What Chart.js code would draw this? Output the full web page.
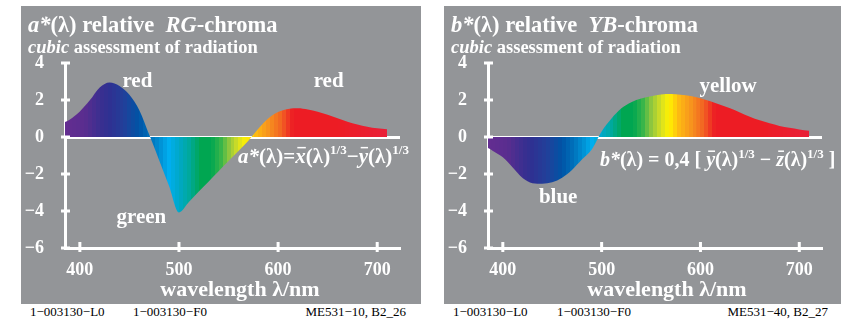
<!DOCTYPE html>
<html>
<head>
<meta charset="utf-8">
<script src="https://cdn.jsdelivr.net/npm/chart.js@4.4.0/dist/chart.umd.min.js"></script>
<style>
  body { margin:0; background:#fff; width:841px; height:320px; position:relative; overflow:hidden; font-family:"Liberation Serif","Times New Roman",serif; }
  .panel { position:absolute; top:6px; height:298px; background:#939598; }
  #p1 { left:21px; width:400px; }
  #p2 { left:444px; width:397px; }
  .foot { position:absolute; top:305px; font-size:13px; line-height:14px; color:#000; white-space:nowrap; }
</style>
</head>
<body>
<div class="panel" id="p1"><canvas id="chartA"></canvas></div>
<div class="panel" id="p2"><canvas id="chartB"></canvas></div>
<div class="foot" style="left:30px">1−003130−L0</div>
<div class="foot" style="left:133px">1−003130−F0</div>
<div class="foot" style="right:435px">ME531−10, B2_26</div>
<div class="foot" style="left:453px">1−003130−L0</div>
<div class="foot" style="left:557px">1−003130−F0</div>
<div class="foot" style="right:13px">ME531−40, B2_27</div>
<script>
// wavelength in nm
const wavelengths = [385, 390, 400, 410, 420, 430, 440, 450, 460, 470, 480, 490, 500, 510, 520, 530, 540,
  550, 560, 570, 580, 590, 600, 610, 620, 630, 640, 650, 660, 670, 680, 690, 700, 710];
// a*(λ) relative RG-chroma
const aStar = [0.81, 0.95, 1.38, 1.98, 2.68, 2.95, 2.76, 2.28, 1.45, 0.12, -1.25, -2.65, -4.08, -3.52, -2.95, -2.4, -1.85,
  -1.3, -0.75, -0.2, 0.45, 1.0, 1.35, 1.52, 1.55, 1.48, 1.36, 1.2, 1.01, 0.83, 0.68, 0.56, 0.47, 0.42];
// b*(λ) relative YB-chroma
const bStar = [-0.6, -0.75, -1.1, -1.65, -2.22, -2.5, -2.53, -2.45, -2.2, -1.78, -1.22, -0.68, 0.3, 1.0, 1.55, 1.88, 2.08,
  2.2, 2.3, 2.32, 2.28, 2.22, 2.1, 1.93, 1.75, 1.55, 1.33, 1.1, 0.9, 0.74, 0.6, 0.5, 0.41, 0.34];
const xTicks = [400, 500, 600, 700];
const yTicks = [-6, -4, -2, 0, 2, 4];

// colours of the spectrum (fill)
const spectrum = [
  [380, '#662d91'], [405, '#592d8f'], [420, '#3b2f90'], [430, '#2e3192'], [445, '#21409a'], [460, '#0054a6'],
  [472, '#0072bc'], [482, '#0093d6'], [490, '#00aeef'], [500, '#00a8c8'], [510, '#00a99d'], [522, '#00a651'],
  [532, '#00a651'], [542, '#39b54a'], [550, '#8dc63f'], [560, '#d7df23'], [568, '#fff200'], [578, '#fdb913'],
  [590, '#f7941d'], [603, '#f26522'], [615, '#ed1c24'], [660, '#ed1c24'], [720, '#e8203c']
];

function hex(c) { return [1, 3, 5].map(i => parseInt(c.substr(i, 2), 16)); }
function specColor(l) {
  for (let i = 0; i < spectrum.length - 1; i++) {
    const [l0, c0] = spectrum[i], [l1, c1] = spectrum[i + 1];
    if (l <= l1) {
      const t = Math.max(0, (l - l0) / (l1 - l0));
      const a = hex(c0), b = hex(c1);
      return 'rgb(' + a.map((v, k) => Math.round(v + (b[k] - v) * t)).join(',') + ')';
    }
  }
  return spectrum[spectrum.length - 1][1];
}

function spectrumFill(context) {
  const chart = context.chart;
  if (!chart.chartArea) return '#888';
  const x = chart.scales.x;
  const p0 = x.getPixelForValue(380), p1 = x.getPixelForValue(724);
  const g = chart.ctx.createLinearGradient(p0, 0, p1, 0);
  for (let l = 380; l < 724; l += 4) {
    const c = specColor(l + 2);
    g.addColorStop((l - 380) / 344, c);
    g.addColorStop(Math.min(1, (l + 3.99 - 380) / 344), c);
  }
  return g;
}

const FONT = '"Liberation Serif", "Times New Roman", serif';

function drawRich(ctx, x, y, size, parts) {
  parts.forEach(p => {
    const s = p.sup ? Math.round(size * 0.63) : size;
    ctx.font = (p.i ? 'italic ' : '') + 'bold ' + s + 'px ' + FONT;
    const yy = p.sup ? y - size * 0.42 : y;
    ctx.fillText(p.t, x, yy);
    const w = ctx.measureText(p.t).width;
    if (p.bar) ctx.fillRect(x + 2, yy - size * 0.78, w - 2, 1.5);
    x += w;
  });
}

const decor = {
  id: 'decor',
  afterDraw(chart, args, o) {
    const { ctx, scales: { x, y } } = chart;
    ctx.save();
    ctx.strokeStyle = '#fff';
    ctx.fillStyle = '#fff';
    ctx.lineWidth = 3;
    ctx.beginPath();
    y.ticks.forEach(t => { const py = y.getPixelForValue(t.value); ctx.moveTo(x.left - 4, py); ctx.lineTo(x.left + 5, py); });
    x.ticks.forEach(t => { const px = x.getPixelForValue(t.value); ctx.moveTo(px, y.bottom - 6); ctx.lineTo(px, y.bottom + 4); });
    ctx.stroke();

    ctx.textAlign = 'left';
    ctx.textBaseline = 'alphabetic';
    drawRich(ctx, 7, 26, 22.5, o.title);
    drawRich(ctx, 7, 47, 18.5, o.sub);

    ctx.textAlign = 'center';
    ctx.font = 'bold 21px ' + FONT;
    o.notes.forEach(n => ctx.fillText(n.t, x.getPixelForValue(n.x), y.getPixelForValue(n.y)));
    ctx.font = 'bold 22px ' + FONT;
    ctx.fillText('wavelength λ/nm', o.xTitle, 290);

    ctx.textAlign = 'left';
    drawRich(ctx, x.getPixelForValue(o.formulaAt[0]), y.getPixelForValue(o.formulaAt[1]), o.formulaSize, o.formula);
    ctx.restore();
  }
};

function makeChart(id, values, padRight, deco) {
  return new Chart(document.getElementById(id), {
    type: 'line',
    data: {
      datasets: [{
        data: wavelengths.map((w, i) => ({ x: w, y: values[i] })),
        fill: 'origin',
        backgroundColor: spectrumFill,
        borderWidth: 0,
        borderColor: 'rgba(0,0,0,0)',
        pointRadius: 0,
        cubicInterpolationMode: 'monotone'
      }]
    },
    options: {
      responsive: true,
      maintainAspectRatio: false,
      animation: false,
      layout: { padding: { top: 57, right: padRight, left: 0, bottom: 0 } },
      plugins: { legend: { display: false }, tooltip: { enabled: false }, decor: deco },
      scales: {
        x: {
          type: 'linear',
          min: 385,
          max: 723,
          afterFit: s => { s.height = 56; },
          afterBuildTicks: s => { s.ticks = xTicks.map(v => ({ value: v })); },
          border: { color: '#fff', width: 3 },
          grid: { display: false, drawTicks: false },
          ticks: { color: '#fff', padding: 12, font: { family: FONT, size: 18, weight: 'bold' } }
        },
        y: {
          min: -6,
          max: 4,
          z: 1,
          afterFit: s => { s.width = 44; },
          afterBuildTicks: s => { s.ticks = yTicks.map(v => ({ value: v })); },
          border: { color: '#fff', width: 3 },
          grid: { color: c => (c.tick && c.tick.value === 0 ? '#fff' : 'rgba(0,0,0,0)'), lineWidth: 3, drawTicks: false },
          ticks: {
            color: '#fff', padding: 21, font: { family: FONT, size: 18, weight: 'bold' },
            callback: v => String(v).replace('-', '\u2212')
          }
        }
      }
    },
    plugins: [decor]
  });
}

makeChart('chartA', aStar, 21, {
  title: [{ t: 'a*', i: 1 }, { t: '(λ) relative  ' }, { t: 'RG', i: 1 }, { t: '-chroma' }],
  sub: [{ t: 'cubic', i: 1 }, { t: ' assessment of radiation' }],
  notes: [{ t: 'red', x: 458, y: 2.69 }, { t: 'red', x: 651, y: 2.69 }, { t: 'green', x: 462, y: -4.66 }],
  xTitle: 219,
  formulaAt: [559.6, -1.42],
  formulaSize: 21,
  formula: [{ t: 'a*', i: 1 }, { t: '(λ)=' }, { t: 'x', i: 1, bar: 1 }, { t: '(λ)' }, { t: '1/3', sup: 1 },
    { t: '−' }, { t: 'y', i: 1, bar: 1 }, { t: '(λ)' }, { t: '1/3', sup: 1 }]
});

makeChart('chartB', bStar, 19, {
  title: [{ t: 'b*', i: 1 }, { t: '(λ) relative  ' }, { t: 'YB', i: 1 }, { t: '-chroma' }],
  sub: [{ t: 'cubic', i: 1 }, { t: ' assessment of radiation' }],
  notes: [{ t: 'yellow', x: 628, y: 2.42 }, { t: 'blue', x: 456, y: -3.58 }],
  xTitle: 223,
  formulaAt: [498.3, -1.57],
  formulaSize: 20,
  formula: [{ t: 'b*', i: 1 }, { t: '(λ) = 0,4 [ ' }, { t: 'y', i: 1, bar: 1 }, { t: '(λ)' }, { t: '1/3', sup: 1 },
    { t: ' − ' }, { t: 'z', i: 1, bar: 1 }, { t: '(λ)' }, { t: '1/3', sup: 1 }, { t: ' ]' }]
});
</script>
</body>
</html>
